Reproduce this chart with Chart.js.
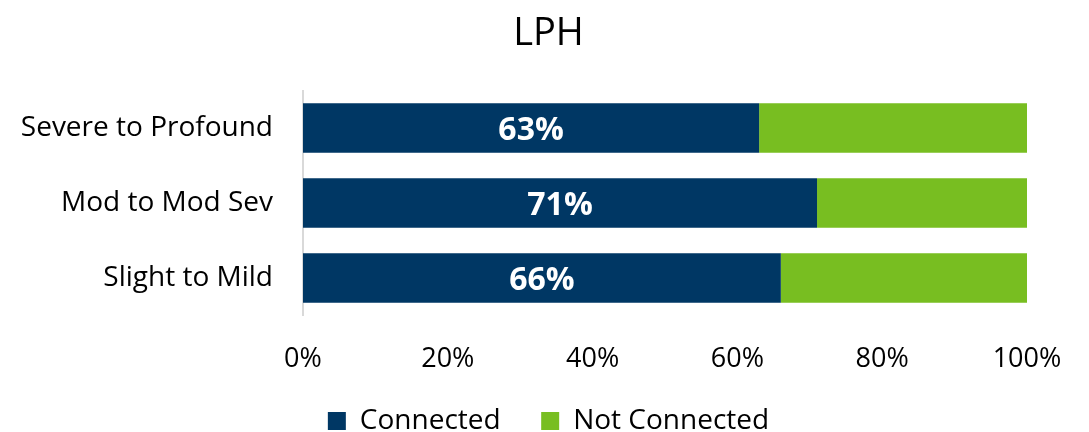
<!DOCTYPE html>
<html>
<head>
<meta charset="utf-8">
<script src="https://cdn.jsdelivr.net/npm/chart.js@4/dist/chart.umd.min.js"></script>
<style>
html,body{margin:0;padding:0;background:#fff;}
#wrap{width:1089px;height:432px;}
</style>
</head>
<body>
<div id="wrap"><canvas id="c" width="1089" height="432"></canvas></div>
<script>
const categories = ["Severe to Profound", "Mod to Mod Sev", "Slight to Mild"];
const connected = [63, 71, 66];
const notConnected = [37, 29, 34];
const tickValues = [0, 20, 40, 60, 80, 100];
const titleText = "LPH";
const seriesNames = ["Connected", "Not Connected"];

const FONT = "'Open Sans', sans-serif";

const labelPlugin = {
  id: 'barLabels',
  afterDatasetsDraw(chart) {
    const ctx = chart.ctx;
    const meta = chart.getDatasetMeta(0);
    ctx.save();
    ctx.fillStyle = '#ffffff';
    ctx.font = "bold 32px " + FONT;
    ctx.textAlign = 'center';
    ctx.textBaseline = 'middle';
    meta.data.forEach((bar, i) => {
      const x = (bar.base + bar.x) / 2;
      ctx.fillText(connected[i] + '%', x, bar.y + 3);
    });
    ctx.restore();
  }
};

new Chart(document.getElementById('c'), {
  type: 'bar',
  data: {
    labels: categories,
    datasets: [
      { label: seriesNames[0], data: connected, backgroundColor: '#003764', borderWidth: 0, categoryPercentage: 0.66, barPercentage: 1.0 },
      { label: seriesNames[1], data: notConnected, backgroundColor: '#78BE21', borderWidth: 0, categoryPercentage: 0.66, barPercentage: 1.0 }
    ]
  },
  options: {
    indexAxis: 'y',
    responsive: false,
    animation: false,
    devicePixelRatio: 1,
    layout: { padding: { left: 18, right: 10, top: 0, bottom: -13 } },
    plugins: {
      title: {
        display: true, text: titleText, color: '#000',
        font: { family: FONT, size: 38, weight: 'normal' },
        padding: { top: 11, bottom: 34 }
      },
      legend: {
        display: true, position: 'bottom',
        labels: {
          color: '#000', font: { family: FONT, size: 28 },
          boxWidth: 18, boxHeight: 18, padding: 26,
          generateLabels(chart) {
            const items = Chart.defaults.plugins.legend.labels.generateLabels(chart);
            if (items.length) items[0].text = items[0].text + '  ';
            return items;
          }
        }
      },
      tooltip: { enabled: false }
    },
    scales: {
      x: {
        stacked: true, min: 0, max: 100,
        afterBuildTicks(scale) { scale.ticks = tickValues.map(v => ({ value: v })); },
        ticks: {
          color: '#000', font: { family: FONT, size: 27 }, padding: 5,
          callback: v => v + '%', maxRotation: 0, autoSkip: false
        },
        grid: { display: false, drawTicks: true, tickLength: 23 },
        border: { display: false }
      },
      y: {
        stacked: true,
        afterFit(scale) { scale.width = 285; },
        ticks: { color: '#000', font: { family: FONT, size: 28 }, padding: 30 },
        grid: { display: false, drawTicks: false },
        border: { display: true, color: '#d9d9d9', width: 2 }
      },
      yRight: {
        type: 'category', position: 'right', display: true,
        afterFit(scale) { scale.width = 52; },
        ticks: { display: false },
        grid: { display: false, drawTicks: false },
        border: { display: false }
      }
    }
  },
  plugins: [labelPlugin]
});
</script>
</body>
</html>
